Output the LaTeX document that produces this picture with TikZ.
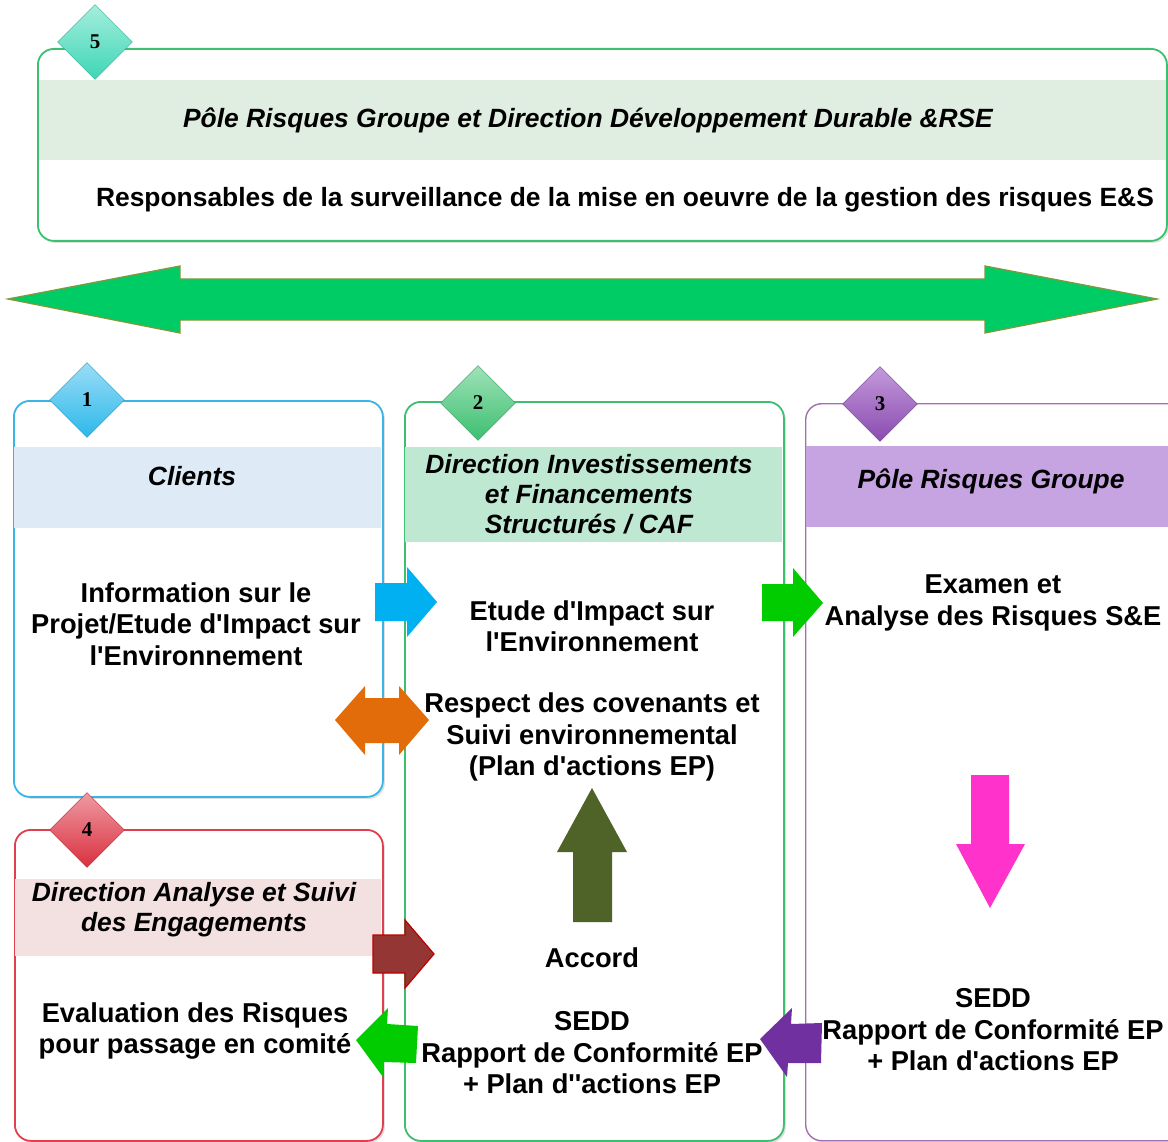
\documentclass[tikz,border=0pt]{standalone}
\usepackage{fontspec}
\setmainfont{Liberation Sans}
\newfontfamily\numfont{Liberation Serif}
\usetikzlibrary{shapes.geometric,shadows}
\newcommand{\sq}{\textquotesingle}
\definecolor{cTeal}{HTML}{3DD6B5}
\definecolor{cTealL}{HTML}{A5EEDD}
\definecolor{cBlue}{HTML}{2CB8EA}
\definecolor{cBlueL}{HTML}{9BDDF6}
\definecolor{cGreen}{HTML}{3CBF70}
\definecolor{cGreenL}{HTML}{9FE2B8}
\definecolor{cPurple}{HTML}{8A4BB0}
\definecolor{cPurpleL}{HTML}{C39ADB}
\definecolor{cRed}{HTML}{D9303F}
\definecolor{cRedL}{HTML}{EE9AA2}
\definecolor{bTop}{HTML}{3DBF70}
\definecolor{bOne}{HTML}{3CB4E6}
\definecolor{bTwo}{HTML}{3DBF70}
\definecolor{bThree}{HTML}{A070B0}
\definecolor{bFour}{HTML}{E0404E}
\definecolor{fTop}{HTML}{E0EDE1}
\definecolor{fOne}{HTML}{DEEBF7}
\definecolor{fTwo}{HTML}{BFE8D3}
\definecolor{fThree}{HTML}{C6A3E1}
\definecolor{fFour}{HTML}{F3E0E0}
\definecolor{bigG}{HTML}{00CC66}
\definecolor{bigB}{HTML}{7F9A3D}
\definecolor{arBlue}{HTML}{00B0F0}
\definecolor{arOrange}{HTML}{E36C0A}
\definecolor{arGreen}{HTML}{00CC00}
\definecolor{arOlive}{HTML}{4F6228}
\definecolor{arPink}{HTML}{FF33CC}
\definecolor{arDRed}{HTML}{943634}
\definecolor{arDRedB}{HTML}{C00000}
\definecolor{arPurple}{HTML}{7030A0}
\begin{document}
\begin{tikzpicture}[x=1pt,y=-1pt,
  frame/.style={draw, line width=1.8pt, rectangle, rounded corners=16pt, fill=white,
    anchor=north west, inner sep=0pt,
    drop shadow={opacity=0.25, shadow xshift=2pt, shadow yshift=-2pt}},
  band/.style={rectangle, anchor=north west, inner sep=0pt, draw=none},
  htext/.style={font=\bfseries\itshape\fontsize{26.4}{30}\selectfont, align=center},
  btext/.style={font=\bfseries\fontsize{27.3}{31.5}\selectfont, align=center},
  badge/.style={diamond, minimum width=75pt, minimum height=75pt, inner sep=0pt,
    font=\numfont\bfseries\fontsize{21}{21}\selectfont}
]
\useasboundingbox (0,0) rectangle (1168,1142);
\clip (0,0) rectangle (1168,1142);

% boxes
\node[frame, draw=bTop, minimum width=1129pt, minimum height=192pt] (box5) at (37,48) {};
\node[frame, draw=bOne, minimum width=369pt, minimum height=396pt] (box1) at (13,400) {};
\node[frame, draw=bTwo, minimum width=379pt, minimum height=739pt] (box2) at (404,401) {};
\node[frame, draw=bThree, line width=1.4pt, minimum width=390pt, minimum height=737pt] (box3) at (805,403) {};
\node[frame, draw=bFour, minimum width=368pt, minimum height=311pt] (box4) at (14,829) {};

% header bands
\node[band, fill=fTop, minimum width=1127pt, minimum height=80pt] (band5) at (38.5,80) {};
\node[band, fill=fOne, minimum width=367pt, minimum height=81pt] (band1) at (14,447) {};
\node[band, fill=fTwo, minimum width=377pt, minimum height=95pt] (band2) at (405,447) {};
\node[band, fill=fThree, minimum width=370pt, minimum height=81pt] (band3) at (806,446) {};
\node[band, fill=fFour, minimum width=366pt, minimum height=77pt] (band4) at (15,879) {};

% header texts
\node[htext] (h5) at (588,120) {Pôle Risques Groupe et Direction Développement Durable \&RSE};
\node[htext] (h1) at (192,476) {Clients};
\node[htext] (h2) at (589,494) {Direction Investissements\\et Financements\\Structurés / CAF};
\node[htext] (h3) at (991,481) {Pôle Risques Groupe};
\node[htext] (h4) at (194,910) {Direction Analyse et Suivi\\des Engagements};

% body texts
\node[btext, font=\bfseries\fontsize{26.4}{31.5}\selectfont] (s5) at (625,200) {Responsables de la surveillance de la mise en oeuvre de la gestion des risques E\&S};
\node[btext] (t1) at (196,624) {Information sur le\\Projet/Etude d\sq Impact sur\\l\sq Environnement};
\node[btext] (t2a) at (592,626) {Etude d\sq Impact sur\\l\sq Environnement};
\node[btext] (t2b) at (592,737) {Respect des covenants et\\Suivi environnemental\\(Plan d\sq actions EP)};
\node[btext] (t2c) at (592,958) {Accord};
\node[btext] (t2d) at (592,1053) {SEDD\\Rapport de Conformité EP\\+ Plan d\sq\sq actions EP};
\node[btext] (t3a) at (993,603) {Examen et\\Analyse des Risques S\&E};
\node[btext] (t3b) at (993,1030) {SEDD\\Rapport de Conformité EP\\+ Plan d\sq actions EP};
\node[btext] (t4) at (195,1031) {Evaluation des Risques\\pour passage en comité};

% badges
\node[badge, top color=cTealL, bottom color=cTeal, draw=cTeal!80!black, line width=0.3pt] (d5) at (95,42) {5};
\node[badge, top color=cBlueL, bottom color=cBlue, draw=cBlue!80!black, line width=0.3pt] (d1) at (87,400) {1};
\node[badge, top color=cGreenL, bottom color=cGreen, draw=cGreen!80!black, line width=0.3pt] (d2) at (478,403) {2};
\node[badge, top color=cPurpleL, bottom color=cPurple, draw=cPurple!80!black, line width=0.3pt] (d3) at (880,404) {3};
\node[badge, top color=cRedL, bottom color=cRed, draw=cRed!80!black, line width=0.3pt] (d4) at (87,830) {4};

% big double arrow
\draw[fill=bigG, draw=bigB, line width=1.3pt, line join=miter]
  (8,299) -- (180,266) -- (180,279) -- (985,279) -- (985,266) -- (1157,299)
  -- (985,333) -- (985,320) -- (180,320) -- (180,333) -- cycle;

% block arrows
\fill[arBlue] (375,583) -- (407,583) -- (407,567) -- (437,602) -- (407,637) -- (407,621) -- (375,621) -- cycle;
\fill[arOrange] (335,720) -- (365,686) -- (365,698) -- (399,698) -- (399,686) -- (429,720)
  -- (399,755) -- (399,743) -- (365,743) -- (365,755) -- cycle;
\fill[arGreen] (762,584) -- (793,584) -- (793,568) -- (823,603) -- (793,637) -- (793,621) -- (762,621) -- cycle;
\fill[arOlive] (592,788) -- (627,852) -- (612,852) -- (612,922) -- (573,922) -- (573,852) -- (557,852) -- cycle;
\fill[arPink] (990,908) -- (1025,844) -- (1009,844) -- (1009,775) -- (971,775) -- (971,844) -- (956,844) -- cycle;
\draw[fill=arDRed, draw=arDRedB, line width=1.2pt, line join=miter]
  (373,935) -- (405,935) -- (405,920) -- (434,954) -- (405,988) -- (405,973) -- (373,973) -- cycle;
\fill[arGreen] (356,1040) -- (388,1008) -- (387,1024) -- (418,1026) -- (416,1063) -- (384,1062) -- (383,1077) -- cycle;
\fill[arPurple] (760,1039) -- (792,1008) -- (791,1024) -- (822,1023) -- (821,1063) -- (788,1063) -- (787,1077) -- cycle;
\end{tikzpicture}
\end{document}
